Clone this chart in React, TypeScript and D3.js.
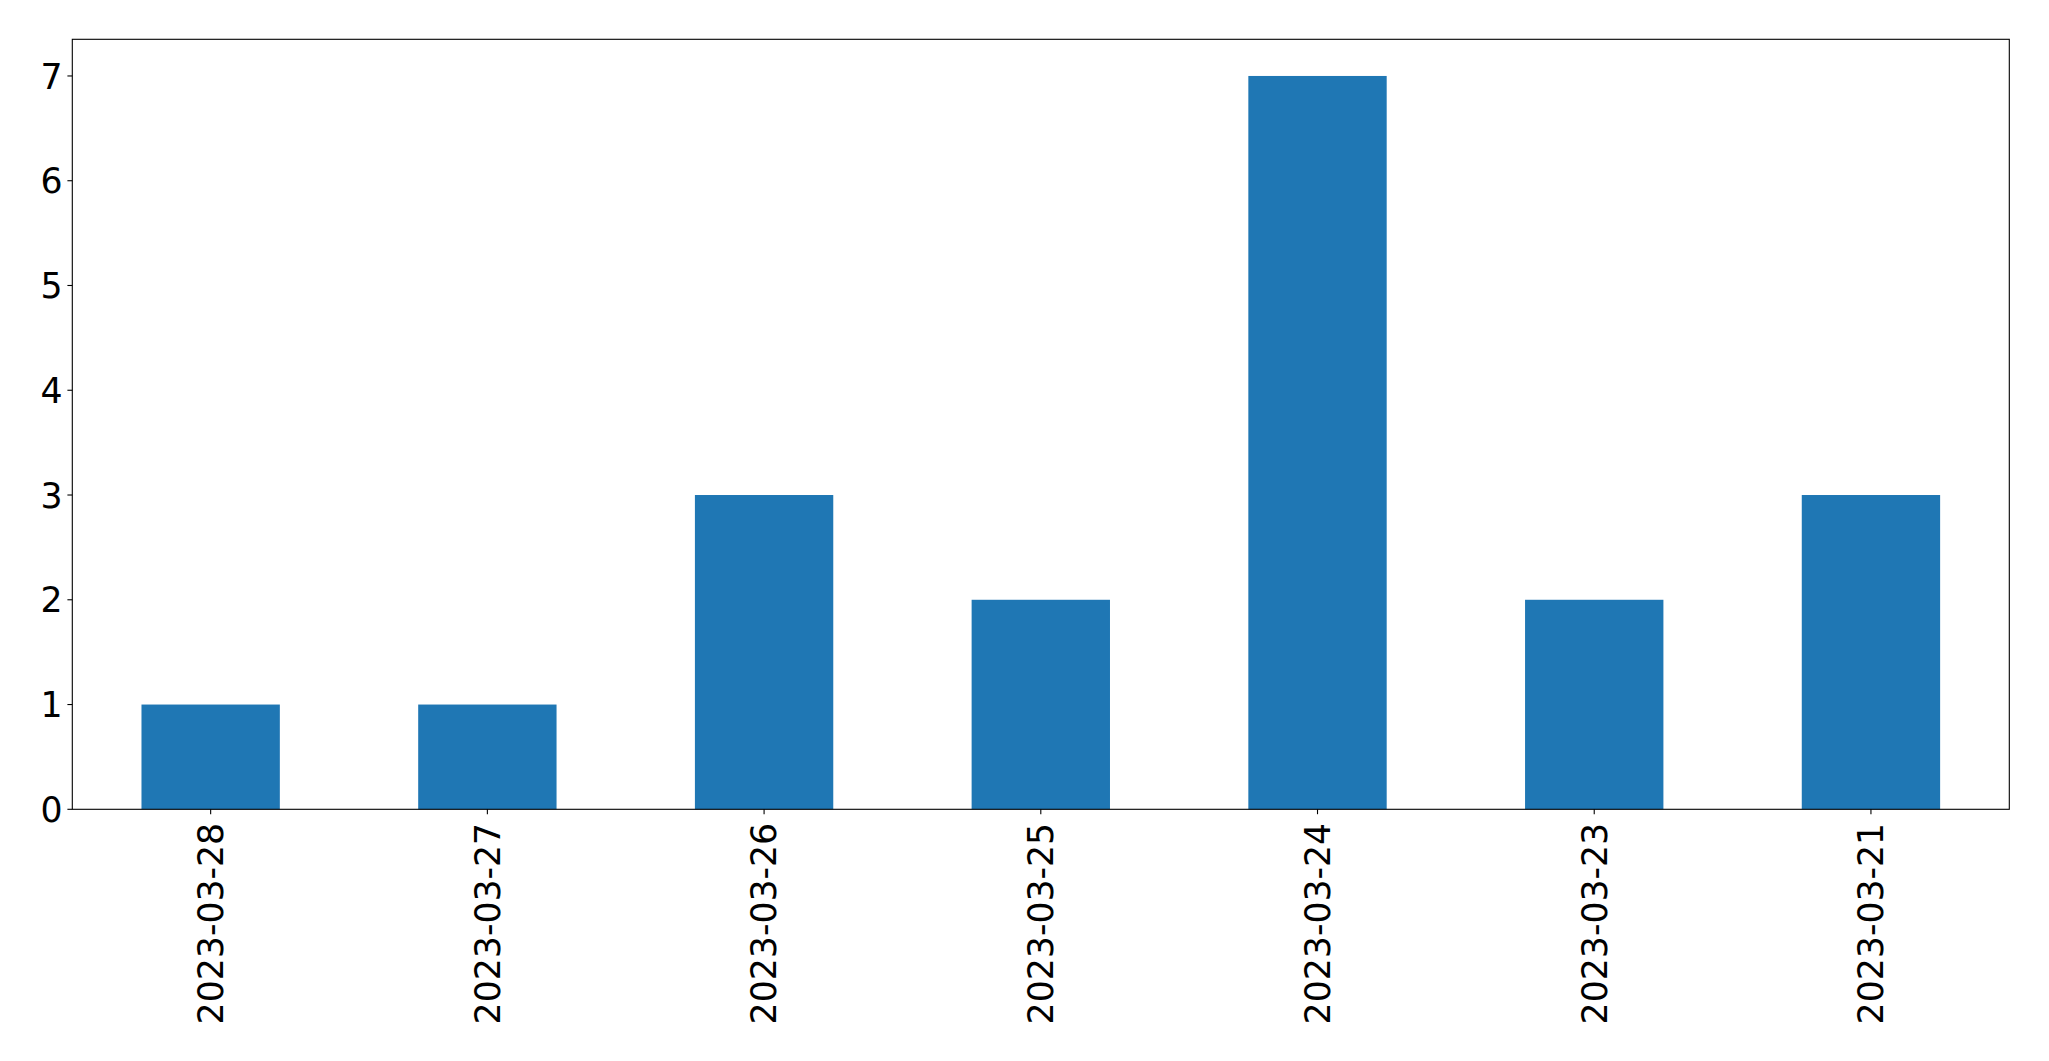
import React from "react";
import * as d3 from "d3";

const categories = ["2023-03-28", "2023-03-27", "2023-03-26", "2023-03-25", "2023-03-24", "2023-03-23", "2023-03-21"];
const values = [1, 1, 3, 2, 7, 2, 3];
const yTicks = [0, 1, 2, 3, 4, 5, 6, 7];

const W = 2049;
const H = 1061;
const left = 72.3;
const right = 2009.3;
const top = 39.3;
const bottom = 809.3;
const fs = 34.7;
const color = "#1f77b4";

export default function App() {
  const x = d3.scaleLinear().domain([-0.5, categories.length - 0.5]).range([left, right]);
  const y = d3.scaleLinear().domain([0, d3.max(values)! * 1.05]).range([bottom, top]);
  const bw = x(0.25) - x(0);
  return (
    <svg width={W} height={H} style={{ position: "absolute", left: 0, top: 0, background: "#fff" }}
      fontFamily="DejaVu Sans" >
      <rect x={0} y={0} width={W} height={H} fill="#fff" />
      {values.map((v, i) => (
        <rect key={i} x={x(i) - bw} width={bw * 2} y={y(v)} height={y(0) - y(v)} fill={color} />
      ))}
      <rect x={left} y={top} width={right - left} height={bottom - top} fill="none" stroke="#000" strokeWidth={1.1} />
      {yTicks.map((t) => (
        <g key={t}>
          <line x1={left - 4.9} x2={left} y1={y(t)} y2={y(t)} stroke="#000" strokeWidth={1.1} />
          <text x={left - 9.8} y={y(t) + 0.729 * fs / 2} textAnchor="end" fontSize={fs} fill="#000">{t}</text>
        </g>
      ))}
      {categories.map((c, i) => (
        <g key={c}>
          <line x1={x(i)} x2={x(i)} y1={bottom} y2={bottom + 4.9} stroke="#000" strokeWidth={1.1} />
          <text transform={`translate(${x(i)},${bottom + 13.5}) rotate(-90)`} x={0} y={12.3} textAnchor="end" fontSize={fs} fill="#000">{c}</text>
        </g>
      ))}
    </svg>
  );
}
